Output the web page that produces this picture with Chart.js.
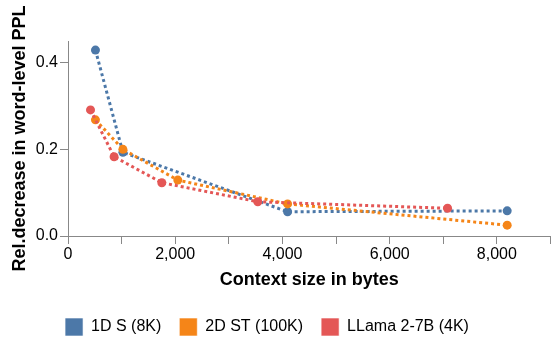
<!DOCTYPE html>
<html>
<head>
<meta charset="utf-8">
<script src="https://cdn.jsdelivr.net/npm/chart.js@4.4.1/dist/chart.umd.min.js"></script>
<style>
  html, body { margin: 0; padding: 0; background: #fff; }
  #wrap { width: 555px; height: 337px; }
</style>
</head>
<body>
<div id="wrap"><canvas id="myChart" width="555" height="337"></canvas></div>
<script>
// context size (bytes) and relative decrease in word-level PPL
const seriesNames = ['1D S (8K)', '2D ST (100K)', 'LLama 2-7B (4K)'];
const colors = ['#4c78a8', '#f58518', '#e45756'];

const sX1 = [512, 1024, 4096, 8192];
const sY1 = [0.429, 0.193, 0.056, 0.058];

const sX2 = [512, 1024, 2048, 4096, 8192];
const sY2 = [0.268, 0.200, 0.129, 0.074, 0.025];

const sX3 = [420, 860, 1750, 3540, 7080];
const sY3 = [0.291, 0.183, 0.123, 0.079, 0.064];

const yTicks = [0, 0.2, 0.4];

const FONT = "'Liberation Sans', Arial, sans-serif";

function points(xs, ys) {
    return xs.map((x, i) => ({x: x, y: ys[i]}));
}

function makeDataset(i, xs, ys) {
    return {
        label: seriesNames[i],
        data: points(xs, ys),
        borderColor: colors[i],
        backgroundColor: colors[i],
        borderWidth: 3,
        borderDash: [3, 3],
        pointRadius: 4.5,
        pointHoverRadius: 4.5,
        pointBorderWidth: 0,
        pointBackgroundColor: colors[i],
        order: 3 - i
    };
}

// the legend sits a bit left of the canvas centre in the original
const shiftLegend = {
    id: 'shiftLegend',
    afterLayout(chart) {
        chart.legend.left -= 10;
        chart.legend.right -= 10;
    }
};

const config = {
    type: 'line',
    data: {
        datasets: [
            makeDataset(0, sX1, sY1),
            makeDataset(1, sX2, sY2),
            makeDataset(2, sX3, sY3)
        ]
    },
    options: {
        responsive: false,
        animation: false,
        layout: {
            padding: {top: 41, right: 1, bottom: -9, left: 0}
        },
        scales: {
            x: {
                type: 'linear',
                min: 0,
                max: 9000,
                afterFit: function (scale) { scale.height = 64; },
                ticks: {
                    stepSize: 1000,
                    color: '#000',
                    padding: 1,
                    maxRotation: 0,
                    autoSkip: false,
                    font: {family: FONT, size: 16},
                    callback: v => (v % 2000 === 0 ? v.toLocaleString('en-US') : '')
                },
                grid: {drawOnChartArea: false, tickLength: 8, color: '#888'},
                border: {color: '#888'},
                title: {
                    display: true,
                    text: 'Context size in bytes',
                    color: '#000',
                    font: {family: FONT, size: 18, weight: 'bold'},
                    padding: {top: 0, bottom: 9}
                }
            },
            y: {
                min: 0,
                max: 0.45,
                afterFit: function (scale) { scale.width = 68; },
                afterBuildTicks: function (scale) {
                    scale.ticks = yTicks.map(v => ({value: v}));
                },
                ticks: {
                    color: '#000',
                    padding: 2,
                    font: {family: FONT, size: 16},
                    callback: v => v.toFixed(1)
                },
                grid: {drawOnChartArea: false, tickLength: 8, color: '#888'},
                border: {color: '#888'},
                title: {
                    display: true,
                    text: 'Rel.decrease in word-level PPL',
                    color: '#000',
                    font: {family: FONT, size: 18, weight: 'bold'},
                    padding: {top: 9, bottom: 0}
                }
            }
        },
        plugins: {
            legend: {
                position: 'bottom',
                labels: {
                    boxWidth: 18,
                    boxHeight: 18,
                    padding: 18,
                    color: '#000',
                    font: {family: FONT, size: 16},
                    sort: (a, b) => a.datasetIndex - b.datasetIndex,
                    generateLabels: function (chart) {
                        return chart.data.datasets.map((ds, i) => ({
                            text: ds.label,
                            fillStyle: colors[i],
                            strokeStyle: 'rgba(255,255,255,0.6)',
                            lineWidth: 1,
                            lineDash: [],
                            hidden: false,
                            datasetIndex: i
                        }));
                    }
                }
            },
            tooltip: {enabled: false}
        }
    },
    plugins: [shiftLegend]
};

const myChart = new Chart(document.getElementById('myChart').getContext('2d'), config);
</script>
</body>
</html>
